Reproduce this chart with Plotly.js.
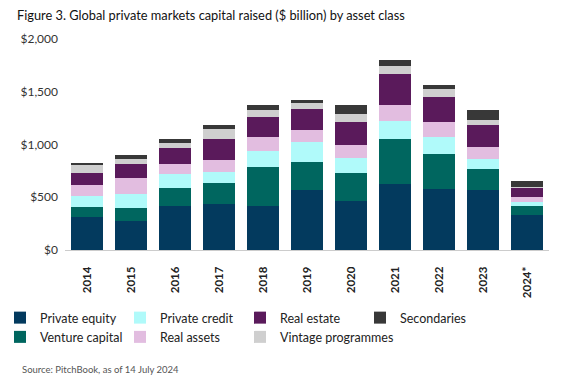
<!DOCTYPE html>
<html>
<head>
<meta charset="utf-8">
<script src="https://cdn.plot.ly/plotly-3.0.1.min.js"></script>
<style>html,body{margin:0;padding:0;background:#fff;}#chart{width:582px;height:390px;}</style>
</head>
<body>
<div id="chart"></div>
<script>
const years = ["2014","2015","2016","2017","2018","2019","2020","2021","2022","2023","2024*"];
const privateEquity     = [313, 275, 417, 436, 417, 569, 465, 626, 578, 569, 332];
const ventureCapital    = [95, 123, 171, 199, 370, 265, 265, 426, 332, 199, 85];
const privateCredit     = [104, 133, 132, 104, 151, 190, 142, 171, 161, 95, 38];
const realAssets        = [104, 152, 95, 114, 133, 114, 123, 152, 142, 113, 47];
const realEstate        = [114, 132, 152, 199, 190, 199, 218, 293, 237, 209, 86];
const vintageProgrammes = [76, 48, 47, 95, 66, 57, 76, 76, 76, 47, 9];
const secondaries       = [19, 37, 38, 38, 48, 28, 86, 57, 38, 95, 57];
const yTickVals = [0, 500, 1000, 1500, 2000];
const yTickText = ["$0", "$500", "$1,000", "$1,500", "$2,000"];

const series = [
  {name: "Private equity", y: privateEquity, color: "#033A5E", rank: 1},
  {name: "Venture capital", y: ventureCapital, color: "#00665F", rank: 5},
  {name: "Private credit", y: privateCredit, color: "#B0FAFA", rank: 2},
  {name: "Real assets", y: realAssets, color: "#E2BDE0", rank: 6},
  {name: "Real estate", y: realEstate, color: "#5A1A5B", rank: 3},
  {name: "Vintage programmes", y: vintageProgrammes, color: "#CFCFCF", rank: 7},
  {name: "Secondaries", y: secondaries, color: "#383838", rank: 4}
];

const data = series.map(s => ({
  type: "bar", name: s.name, x: years, y: s.y,
  marker: {color: s.color, line: {width: 0}},
  legendrank: s.rank, hoverinfo: "x+y+name"
}));

const font = "Lato, 'Open Sans', sans-serif";
const layout = {
  width: 582, height: 390,
  margin: {l: 65, r: 33, t: 39, b: 140},
  barmode: "stack", bargap: 0.27,
  paper_bgcolor: "#fff", plot_bgcolor: "#fff",
  font: {family: font, color: "#222", size: 12},
  title: {text: "Figure 3. Global private markets capital raised ($ billion) by asset class",
          x: 17/582, xanchor: "left", xref: "container", y: 1 - 16/390, yanchor: "middle",
          yref: "container",
          font: {family: font, size: 12.8, color: "#111"}},
  xaxis: {
    type: "category", tickangle: -90, showgrid: false, zeroline: false,
    showline: true, linecolor: "#cccccc", linewidth: 1,
    ticks: "", ticklabelstandoff: 11,
    tickfont: {family: font, size: 11.5, color: "#222", weight: "bold"}
  },
  yaxis: {
    range: [0, 2000], tickvals: yTickVals, ticktext: yTickText,
    showgrid: false, zeroline: false, showline: false, ticks: "",
    ticklabelstandoff: 6,
    tickfont: {family: font, size: 12, color: "#333"}
  },
  showlegend: true,
  legend: {
    orientation: "h", x: 0, xanchor: "left", xref: "container",
    y: 1 - 303/390, yanchor: "top", yref: "container", traceorder: "normal",
    entrywidth: 75, entrywidthmode: "pixels",
    font: {family: font, size: 12.5, color: "#222"},
    itemclick: false, tracegroupgap: 0
  },
  annotations: [{
    text: "Source: PitchBook, as of 14 July 2024", xref: "paper", yref: "paper",
    x: -48/517, xanchor: "left", y: -119/211, yanchor: "middle",
    showarrow: false, font: {family: font, size: 9.5, color: "#555"}
  }]
};

Plotly.newPlot("chart", data, layout, {displayModeBar: false, staticPlot: true});
</script>
</body>
</html>
